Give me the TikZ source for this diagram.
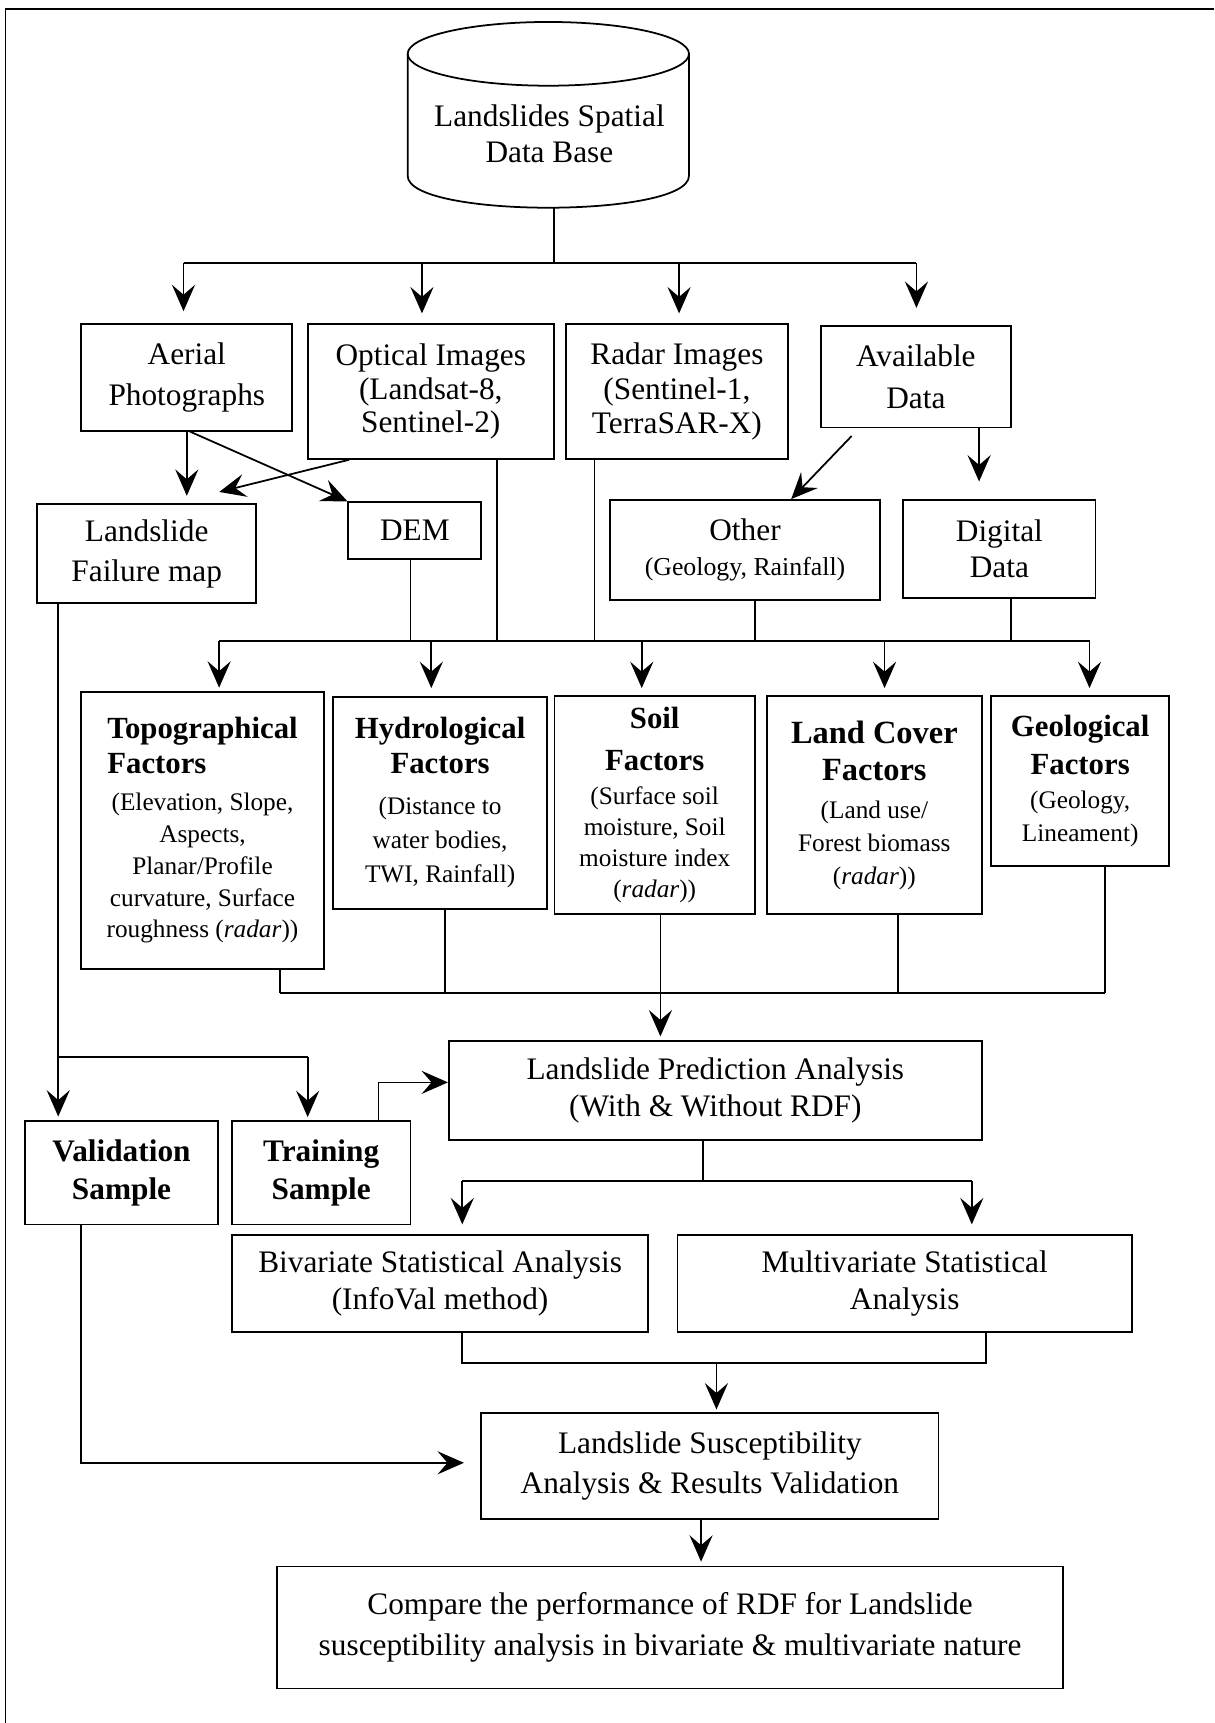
\documentclass[tikz,border=0pt]{standalone}
\usepackage{fontspec}
\setmainfont{Liberation Serif}
\usetikzlibrary{arrows.meta}
\newcommand\myfs[2]{\fontsize{#1}{#2}\selectfont}
\newcommand\ttl[1]{{\bfseries\myfs{28}{29}#1}}
\begin{document}
\begin{tikzpicture}[x=1pt,y=-1pt,
  box/.style={draw, line width=1.6pt, inner sep=0pt, align=center, font=\myfs{28.5}{34}},
  ln/.style={line width=1.6pt},
  arr/.style={line width=1.6pt, -{Stealth[length=24pt,width=21pt,inset=9pt]}},
]
\useasboundingbox (0,0) rectangle (1105,1568);
% frame
\draw[ln] (5,1568) -- (5,8) -- (1105,8);

% database cylinder
\draw[ln] (499,49) ellipse [x radius=128pt, y radius=29pt];
\draw[ln] (371,49) -- (371,160) .. controls (371,198.7) and (627,198.7) .. (627,160) -- (627,49);
\node[align=center, font=\myfs{28.5}{32.6}] (db) at (500,122) {Landslides Spatial\\Data Base};
\coordinate (dbb) at (504,189);

% first row
\node[box, minimum width=192pt, minimum height=97pt, font=\myfs{28.5}{38}] (aerial) at (170,343.5) {Aerial\\Photographs};
\node[box, minimum width=224pt, minimum height=122.6pt, font=\myfs{28.5}{30.5}] (optical) at (392,356.3) {Optical Images\\(Landsat-8,\\Sentinel-2)};
\node[box, minimum width=202pt, minimum height=122.6pt, font=\myfs{28.5}{31}] (radar) at (616,356.3) {Radar Images\\(Sentinel-1,\\TerraSAR-X)};
\node[box, minimum width=173pt, minimum height=92pt, font=\myfs{28.5}{38}] (avail) at (833.5,343) {Available\\Data};

% second row
\node[box, minimum width=199pt, minimum height=90pt, font=\myfs{28.5}{36.7}] (failure) at (133.5,504) {Landslide\\Failure map};
\node[box, minimum width=121pt, minimum height=52pt] (dem) at (377.5,483) {DEM};
\node[box, minimum width=246pt, minimum height=91pt, font=\myfs{23.5}{32}] (other) at (678,500.5) {{\myfs{28.5}{32}Other}\\(Geology, Rainfall)};
\node[box, minimum width=175pt, minimum height=89pt, font=\myfs{28.5}{33}] (digital) at (909.5,499.5) {Digital\\Data};

% factor boxes
\node[box, minimum width=220.6pt, minimum height=252pt, font=\myfs{23}{29}] (topo) at (184.3,755.6)
  {\ttl{Topographical}\\[3pt]\ttl{\rlap{Factors}\phantom{Topographical}}\\[4.5pt](Elevation, Slope,\\Aspects,\\Planar/Profile\\curvature, Surface\\roughness (\textit{radar}))};
\node[box, minimum width=195pt, minimum height=193pt, font=\myfs{23}{31}] (hydro) at (400.5,730.5)
  {\ttl{Hydrological}\\[1pt]\ttl{Factors}\\[6pt](Distance to\\water bodies,\\TWI, Rainfall)};
\node[box, minimum width=182.4pt, minimum height=198pt, font=\myfs{23}{28}] (soil) at (595.8,732.6)
  {\ttl{Soil}\\[10pt]\ttl{Factors}\\[3pt](Surface soil\\moisture, Soil\\moisture index\\(\textit{radar}))};
\node[box, minimum width=196pt, minimum height=198.4pt, font=\myfs{23}{30}] (land) at (795.7,732.8)
  {{\bfseries\myfs{29.5}{30}Land Cover}\\[4pt]{\bfseries\myfs{29.5}{30}Factors}\\[4pt](Land use/\\Forest biomass\\(\textit{radar}))};
\node[box, minimum width=162pt, minimum height=154.4pt, font=\myfs{23}{30.5}] (geo) at (983,710.8)
  {\ttl{Geological}\\[4pt]\ttl{Factors}\\[0.5pt](Geology,\\Lineament)};

% prediction, samples
\node[box, minimum width=485pt, minimum height=90pt] (pred) at (651,992.5) {Landslide Prediction Analysis\\(With \& Without RDF)};
\node[box, minimum width=176pt, minimum height=94pt, font=\bfseries\myfs{28.5}{34}] (valid) at (110.6,1067.4) {Validation\\Sample};
\node[box, minimum width=162.5pt, minimum height=94pt, font=\bfseries\myfs{28.5}{34}] (train) at (292.3,1067.4) {Training\\Sample};

% analyses
\node[box, minimum width=379pt, minimum height=88pt, font=\myfs{28.5}{33.5}] (biv) at (400.5,1168) {Bivariate Statistical Analysis\\(InfoVal method)};
\node[box, minimum width=413.4pt, minimum height=88pt, font=\myfs{28.5}{33.5}] (multi) at (823.3,1168) {Multivariate Statistical\\Analysis};
\node[box, minimum width=416pt, minimum height=96pt, font=\myfs{28.5}{36.6}] (susc) at (646,1334) {Landslide Susceptibility\\Analysis \& Results Validation};
\node[box, minimum width=715.6pt, minimum height=111pt, font=\myfs{28.5}{36.6}] (comp) at (609.8,1481) {Compare the performance of RDF for Landslide\\susceptibility analysis in bivariate \& multivariate nature};

% connectors: database to first row
\coordinate (j0) at (504,239);
\coordinate (jA) at (167,239);
\coordinate (j1) at (384,239);
\coordinate (j2) at (618,239);
\coordinate (jB) at (834,239);
\draw[ln] (dbb) -- (j0);
\draw[ln] (jA) -- (jB);
\draw[arr, shorten >=11pt] (jA) -- (jA |- aerial.north);
\draw[arr, shorten >=9pt] (j1) -- (j1 |- optical.north);
\draw[arr, shorten >=9pt] (j2) -- (j2 |- radar.north);
\draw[arr, shorten >=16pt] (jB) -- (jB |- avail.north);

% first row to second row
\draw[arr, shorten >=7pt] (aerial.south) -- (aerial.south |- failure.north);
\draw[arr] ([xshift=3pt]aerial.south) -- (dem.north west);
\draw[arr] ([xshift=-74.3pt]optical.south) -- ([xshift=-34.3pt,yshift=10.5pt]failure.north east);
\draw[arr] ([xshift=-58.5pt,yshift=-7pt]avail.south) -- ([xshift=42pt]other.north);
\coordinate (a1) at ([xshift=57.5pt]avail.south);
\draw[arr, shorten >=16pt] (a1) -- (a1 |- digital.north);

% second row to factors
\coordinate (k0) at (199.4,583);
\coordinate (k2) at (392.5,583);
\coordinate (k3) at (584,583);
\coordinate (k4) at (805,583);
\coordinate (k1) at (991.5,583);
\draw[ln] (k0) -- (k1);
\coordinate (d0) at ([xshift=-4pt]dem.south);
\coordinate (o0) at ([xshift=60pt]optical.south);
\coordinate (r0) at ([xshift=-75pt]radar.south);
\coordinate (h0) at ([xshift=9pt]other.south);
\coordinate (g0) at ([xshift=10.5pt]digital.south);
\draw[ln] (d0) -- (d0 |- k0);
\draw[ln] (o0) -- (o0 |- k0);
\draw[ln] (r0) -- (r0 |- k0);
\draw[ln] (h0) -- (h0 |- k0);
\draw[ln] (g0) -- (g0 |- k0);
\draw[arr, shorten >=3pt] (k0) -- (k0 |- topo.north);
\draw[arr, shorten >=7pt] (k2) -- (k2 |- hydro.north);
\draw[arr, shorten >=6.6pt] (k3) -- (k3 |- soil.north);
\draw[arr, shorten >=6.6pt] (k4) -- (k4 |- land.north);
\draw[arr, shorten >=6.6pt] (k1) -- (k1 |- geo.north);

% factors to prediction
\coordinate (m0) at (255,903.5);
\coordinate (m2) at (405,903.5);
\coordinate (m3) at (601,903.5);
\coordinate (m4) at (817.5,903.5);
\coordinate (m1) at (1005.6,903.5);
\draw[ln] (m0) -- (m1);
\draw[ln] (m0 |- topo.south) -- (m0);
\draw[ln] (m2 |- hydro.south) -- (m2);
\draw[ln] (m3 |- soil.south) -- (m3);
\draw[ln] (m4 |- land.south) -- (m4);
\draw[ln] (m1 |- geo.south) -- (m1);
\draw[arr, shorten >=3.5pt] (m3) -- (m3 |- pred.north);

% failure map to samples
\coordinate (v0) at (53,962);
\coordinate (v1) at (280,962);
\draw[ln] (v0 |- failure.south) -- (v0) -- (v1);
\draw[arr, shorten >=3.5pt] (v0) -- (v0 |- valid.north);
\draw[arr, shorten >=3pt] (v1) -- (v1 |- train.north);

% training to prediction
\coordinate (t0) at (344.4,985);
\draw[arr] (t0 |- train.north) -- (t0) -- (t0 -| pred.west);

% prediction to analyses
\coordinate (p0) at (640,1074.5);
\coordinate (pL) at (420.7,1074.5);
\coordinate (pR) at (884.4,1074.5);
\draw[ln] (p0 |- pred.south) -- (p0);
\draw[ln] (pL) -- (pR);
\draw[arr, shorten >=9pt] (pL) -- (pL |- biv.north);
\draw[arr, shorten >=9pt] (pR) -- (pR |- multi.north);

% analyses to susceptibility
\coordinate (q0) at (420.7,1240.7);
\coordinate (q1) at (897,1240.7);
\coordinate (q2) at (652,1240.7);
\draw[ln] (q0 |- biv.south) -- (q0) -- (q1) -- (q1 |- multi.south);
\draw[arr, shorten >=2.5pt] (q2) -- (q2 |- susc.north);

% validation to susceptibility
\coordinate (w0) at (74,1331.2);
\draw[arr, shorten >=15pt] (w0 |- valid.south) -- (w0) -- (w0 -| susc.west);

% susceptibility to compare
\coordinate (s0) at ([xshift=-8pt]susc.south);
\draw[arr, shorten >=3.5pt] (s0) -- (s0 |- comp.north);
\end{tikzpicture}
\end{document}
